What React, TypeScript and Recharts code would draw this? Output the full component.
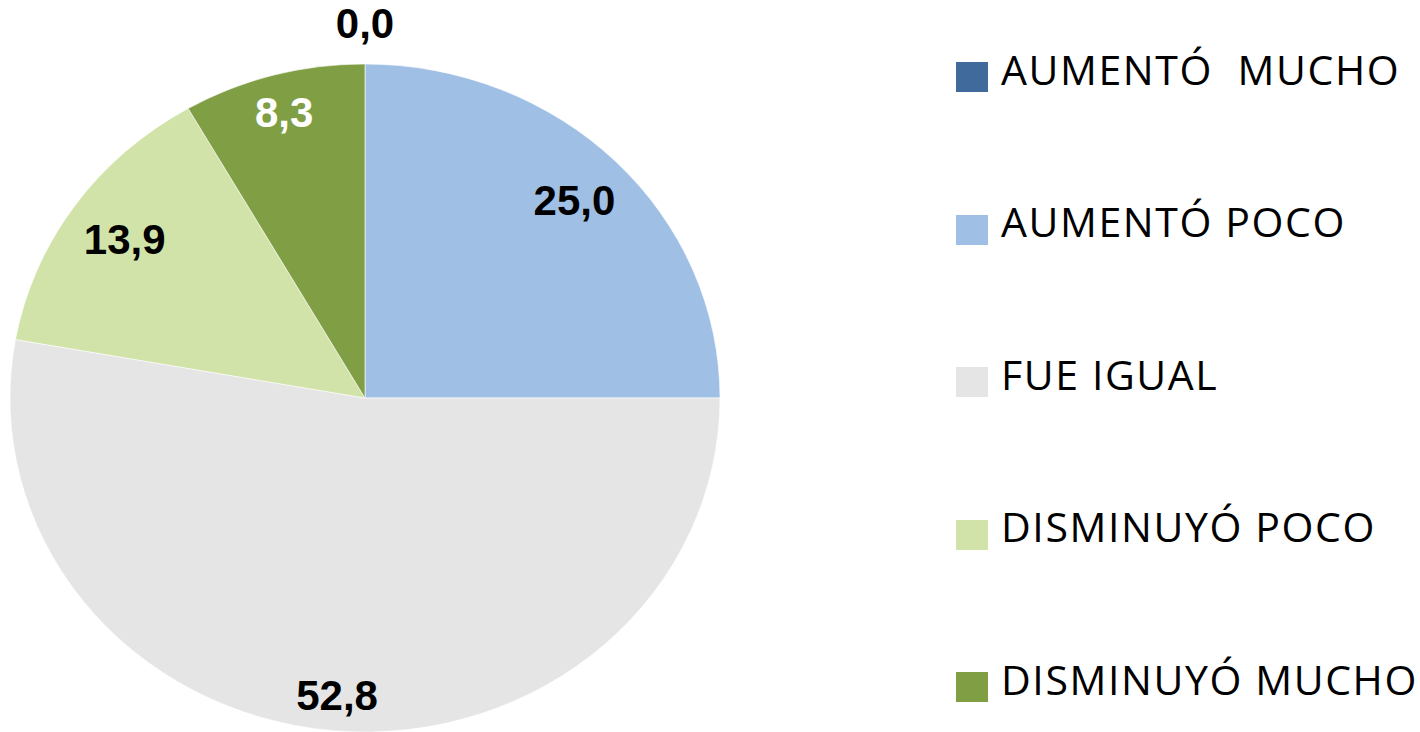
import React from "react";
import { PieChart, Pie, Cell, Legend } from "recharts";

// categories and percentages
const CATEGORIES = [
  "AUMENTÓ  MUCHO",
  "AUMENTÓ POCO",
  "FUE IGUAL",
  "DISMINUYÓ POCO",
  "DISMINUYÓ MUCHO",
];
const VALUES = [0.0, 25.0, 52.8, 13.9, 8.3];

const COLORS = ["#40699c", "#a0bfe4", "#e5e5e5", "#d1e3a8", "#809f45"];
const LABEL_COLORS = ["#000", "#000", "#000", "#000", "#fff"];

// the original pie is slightly squashed vertically
const RX = 355;
const RY = 334;
const SQUASH = RY / RX;
const RAD = Math.PI / 180;

const data = CATEGORIES.map((name, i) => ({ name, value: VALUES[i] }));

const pt = (cx: number, cy: number, r: number, a: number) => ({
  x: cx + r * Math.cos(a * RAD),
  y: cy - r * SQUASH * Math.sin(a * RAD),
});

function EllipseSector(props: any) {
  const { cx, cy, outerRadius, startAngle, endAngle, fill } = props;
  if (Math.abs(endAngle - startAngle) < 1e-6) return <g />;
  const s = pt(cx, cy, outerRadius, startAngle);
  const e = pt(cx, cy, outerRadius, endAngle);
  const large = Math.abs(endAngle - startAngle) > 180 ? 1 : 0;
  const sweep = endAngle < startAngle ? 1 : 0;
  const d = `M${cx},${cy} L${s.x},${s.y} A${outerRadius},${outerRadius * SQUASH} 0 ${large} ${sweep} ${e.x},${e.y} Z`;
  return <path d={d} fill={fill} stroke="#fff" strokeWidth={0.6} />;
}

// "inside end" placement: push the label out until its box is ~20px from the rim
function renderLabel(props: any) {
  const { cx, cy, midAngle, outerRadius, value, index } = props;
  const text = value.toFixed(1).replace(".", ",");
  const halfW = text.length * 10.3;
  const halfH = 15;
  const c = Math.abs(Math.cos(midAngle * RAD));
  const s = Math.abs(Math.sin(midAngle * RAD));
  const r = value > 0 ? outerRadius - 19 - (halfW * c + halfH * s) : outerRadius + 43;
  const p = pt(cx, cy, r, midAngle);
  return (
    <text
      x={p.x}
      y={p.y}
      textAnchor="middle"
      dominantBaseline="central"
      fill={LABEL_COLORS[index]}
      fontFamily="'Liberation Sans', Arial, sans-serif"
      fontWeight="bold"
      fontSize={42}
    >
      {text}
    </text>
  );
}

function LegendList(props: any) {
  const items = [...(props.payload || [])].sort(
    (a: any, b: any) => CATEGORIES.indexOf(a.value) - CATEGORIES.indexOf(b.value)
  );
  return (
    <div style={{ display: "flex", flexDirection: "column" }}>
      {items.map((item: any, i: number) => (
        <div
          key={i}
          style={{ height: 152.5, display: "flex", alignItems: "center" }}
        >
          <div
            style={{
              width: 32,
              height: 30,
              background: item.color,
              marginRight: 13,
              flexShrink: 0,
            }}
          />
          <span
            style={{
              fontFamily: "'Open Sans', sans-serif",
              fontSize: 41,
              letterSpacing: 1.6,
              color: "#000",
              whiteSpace: "pre",
              lineHeight: 1,
              position: "relative",
              top: -8,
            }}
          >
            {item.value}
          </span>
        </div>
      ))}
    </div>
  );
}

export default function App() {
  return (
    <div style={{ position: "absolute", left: 0, top: 0, background: "#fff" }}>
      <PieChart width={1420} height={732} margin={{ top: 0, right: 0, bottom: 0, left: 0 }}>
        <Pie
          data={data}
          dataKey="value"
          nameKey="name"
          cx={365}
          cy={398}
          outerRadius={RX}
          startAngle={90}
          endAngle={-270}
          shape={EllipseSector}
          label={renderLabel}
          labelLine={false}
          isAnimationActive={false}
        >
          {data.map((_, i) => (
            <Cell key={i} fill={COLORS[i]} />
          ))}
        </Pie>
        <Legend
          layout="vertical"
          align="right"
          verticalAlign="top"
          content={LegendList}
          wrapperStyle={{ position: "absolute", left: 956, top: 1, width: 464 }}
        />
      </PieChart>
    </div>
  );
}
